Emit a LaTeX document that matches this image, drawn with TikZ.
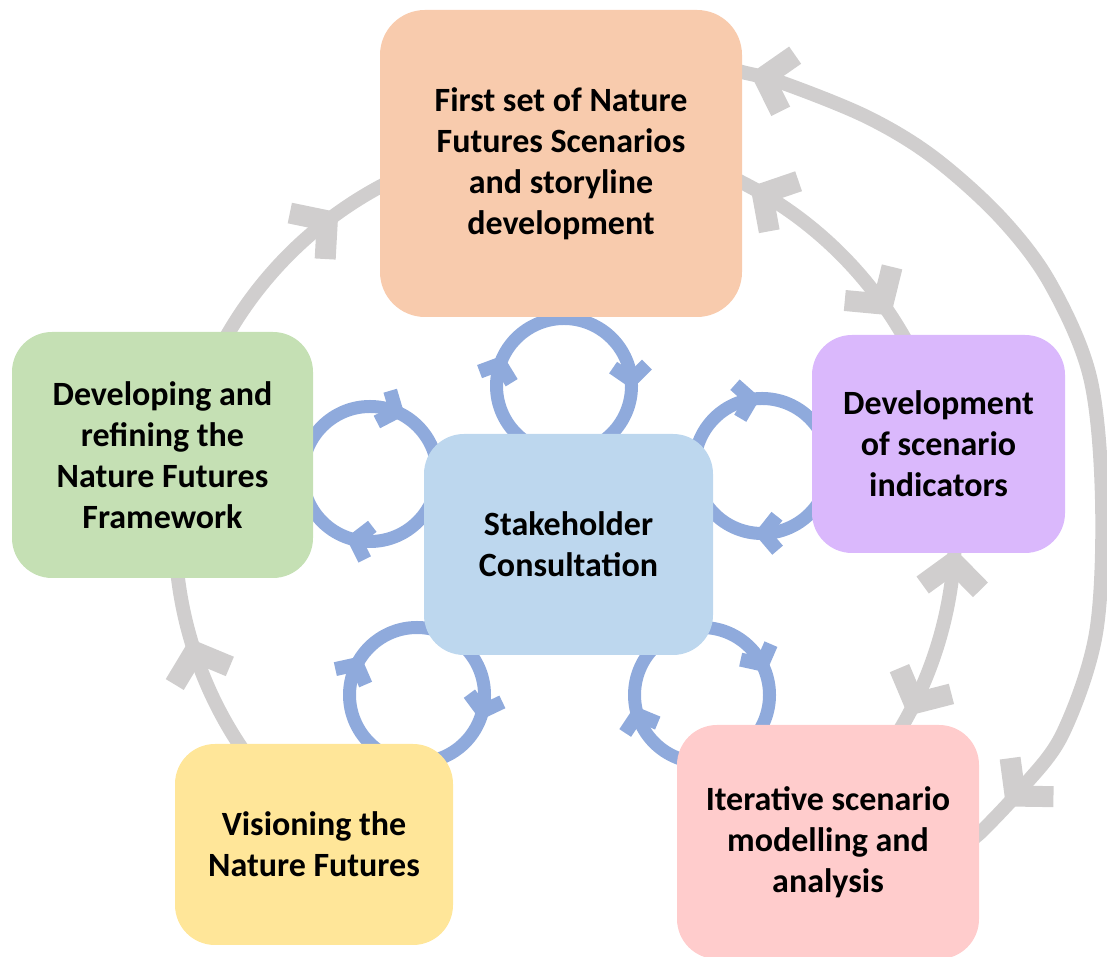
\documentclass[tikz,border=0pt]{standalone}
\usepackage{fontspec}
\setmainfont{Carlito}
\usetikzlibrary{calc,decorations.markings}
\definecolor{cOrange}{HTML}{F8CBAD}
\definecolor{cGreen}{HTML}{C5E0B4}
\definecolor{cPurple}{HTML}{DAB8FC}
\definecolor{cBlue}{HTML}{BDD7EE}
\definecolor{cYellow}{HTML}{FFE699}
\definecolor{cPink}{HTML}{FFCCCC}
\definecolor{cLoop}{HTML}{8FAADC}
\definecolor{cGray}{HTML}{D0CECE}
\tikzset{
  box/.style={rounded corners=40pt, align=center, inner sep=0pt,
    font=\bfseries\fontsize{34}{41}\selectfont},
  graypath/.style={draw=cGray, line width=14pt},
  looppath/.style={draw=cLoop, line width=13pt},
  gchev/.style={draw=cGray, line width=21pt, miter limit=10},
  bchev/.style={draw=cLoop, line width=14pt, miter limit=10},
}
\newcommand\chevGF{\draw[gchev] (-25,29) -- (0,0) -- (-25,-29);}
\newcommand\chevGB{\draw[gchev] (25,29) -- (0,0) -- (25,-29);}
\newcommand\chevB{\draw[bchev] (-14,17) -- (0,0) -- (-14,-17);}
\newcommand\loopring[3]{%
  \draw[looppath, postaction={decorate}, decoration={markings,
    mark=at position #2 with {\chevB}, mark=at position #3 with {\chevB}}]
    ($(#1)+(0:67.5)$) arc[start angle=0, end angle=-360, radius=67.5];}
\begin{document}
\begin{tikzpicture}[x=1pt,y=1pt]
\useasboundingbox (0,0) rectangle (1107,957);
% big ring centre
\coordinate (C) at (565,427);
% gray connectors
\draw[graypath, postaction={decorate}, decoration={markings,
  mark=at position 0.61 with {\chevGF}}]
  ($(C)+(155:390)$) arc[start angle=155, end angle=110, radius=390];
\draw[graypath, postaction={decorate}, decoration={markings,
  mark=at position 0.566 with {\chevGF}}]
  ($(C)+(218:390)$) arc[start angle=218, end angle=183, radius=390];
\draw[graypath, postaction={decorate}, decoration={markings,
  mark=at position 0.135 with {\chevGB}, mark=at position 0.74 with {\chevGF}}]
  ($(C)+(65:390)$) arc[start angle=65, end angle=25, radius=390];
\draw[graypath, postaction={decorate}, decoration={markings,
  mark=at position 0.145 with {\chevGB}, mark=at position 0.8 with {\chevGF}}]
  ($(C)+(0:390)$) arc[start angle=0, end angle=-33, radius=390];
\draw[graypath, postaction={decorate}, decoration={markings,
  mark=at position 40pt with {\chevGB}, mark=at position -66pt with {\chevGF}}]
  plot[smooth, tension=0.55] coordinates {(725,890) (742,885) (783,874) (867,840)
   (933,800) (1000,740) (1050,674) (1090,580) (1102,457) (1096,324)
   (1063,224) (1023,170) (983,127) (968,115)};
% blue loops
\coordinate (lt) at (564,571);
\coordinate (ll) at (370,483);
\coordinate (lr) at (762,491);
\coordinate (lbl) at (417,262);
\coordinate (lbr) at (702,262);
\loopring{lt}{0.553}{0.986}
\loopring{ll}{0.286}{0.814}
\loopring{lr}{0.247}{0.725}
\loopring{lbl}{0.039}{0.575}
\loopring{lbr}{0.453}{0.925}
% boxes
\node[box, rounded corners=45pt, fill=cOrange, minimum width=362pt, minimum height=307pt] (orange) at (561,793.5)
  {First set of Nature\\Futures Scenarios\\and storyline\\development};
\node[box, fill=cGreen, minimum width=301pt, minimum height=246pt] (green) at (162.5,502)
  {Developing and\\refining the\\Nature Futures\\Framework};
\node[box, fill=cPurple, minimum width=253pt, minimum height=218pt] (purple) at (938.5,513)
  {Development\\of scenario\\indicators};
\node[box, fill=cBlue, minimum width=289pt, minimum height=221pt] (centre) at (568.5,412.5)
  {Stakeholder\\Consultation};
\node[box, fill=cYellow, minimum width=278pt, minimum height=201pt] (yellow) at (314,112.5)
  {Visioning the\\Nature Futures};
\node[box, fill=cPink, minimum width=302pt, minimum height=234pt] (pink) at (828,115)
  {Iterative scenario\\modelling and\\analysis};
\end{tikzpicture}
\end{document}
